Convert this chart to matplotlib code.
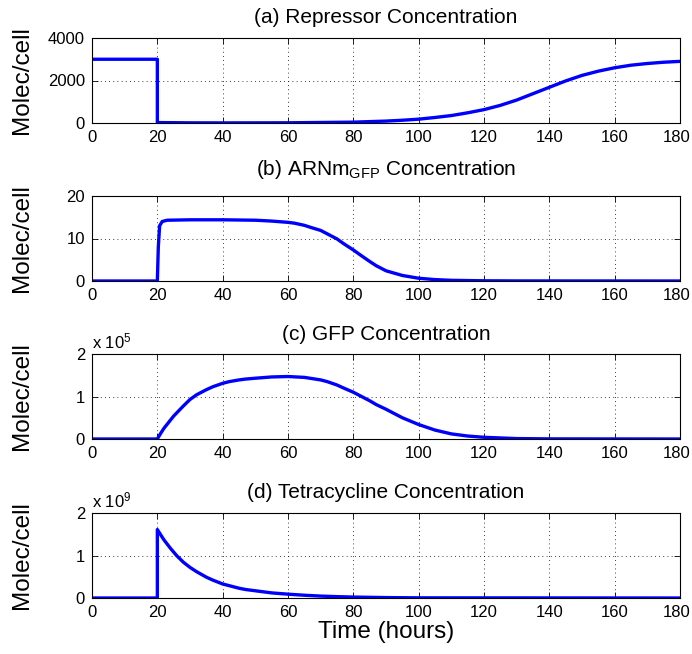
import matplotlib
matplotlib.use("Agg")
import matplotlib.pyplot as plt
import matplotlib.transforms as mtransforms

plt.rcParams['font.family'] = ['Liberation Sans', 'DejaVu Sans']
plt.rcParams['mathtext.fontset'] = 'custom'
plt.rcParams['mathtext.rm'] = 'Liberation Sans'
plt.rcParams['mathtext.it'] = 'Liberation Sans'

# ---- data ----
t_rep = [0, 20, 20, 30, 40, 60, 80, 90, 95, 100, 105, 110, 115, 120, 125, 130, 135, 140, 145, 150, 155, 160, 165, 170, 175, 180]
repressor = [3000, 3000, 20, 8, 5, 10, 40, 90, 130, 180, 260, 350, 480, 630, 830, 1080, 1380, 1680, 1980, 2240, 2440, 2600, 2720, 2800, 2860, 2900]

t_arn = [0, 20, 20.3, 20.7, 21.5, 23, 30, 40, 50, 55, 60, 62, 65, 67, 70, 72, 75, 77, 80, 82, 85, 87, 90, 95, 100, 105, 110, 120, 130, 180]
arnm_gfp = [0, 0, 8, 13, 14.0, 14.3, 14.4, 14.4, 14.3, 14.1, 13.8, 13.6, 13.1, 12.6, 11.9, 11.1, 9.9, 8.8, 7.3, 6.2, 4.6, 3.6, 2.4, 1.3, 0.65, 0.33, 0.16, 0.05, 0.02, 0]

t_gfp = [0, 20, 21, 22, 25, 28, 30, 32, 35, 37, 40, 42, 45, 47, 50, 55, 60, 65, 70, 72, 75, 77, 80, 82, 85, 87, 90, 92, 95, 100, 105, 110, 115, 120, 130, 140, 180]
gfp_x1e5 = [0, 0, 0.13, 0.25, 0.54, 0.78, 0.93, 1.04, 1.16, 1.23, 1.31, 1.35, 1.39, 1.41, 1.43, 1.46, 1.47, 1.45, 1.39, 1.35, 1.27, 1.20, 1.10, 1.02, 0.90, 0.81, 0.70, 0.62, 0.50, 0.34, 0.21, 0.12, 0.07, 0.04, 0.01, 0.003, 0]

t_tet = [0, 20, 20, 21, 22, 24, 25, 26, 28, 30, 32, 35, 37, 40, 42, 45, 47, 50, 55, 60, 65, 70, 75, 80, 90, 100, 180]
tet_x1e9 = [0, 0, 1.61, 1.49, 1.37, 1.17, 1.08, 0.99, 0.84, 0.72, 0.62, 0.49, 0.42, 0.33, 0.29, 0.23, 0.20, 0.17, 0.12, 0.09, 0.065, 0.045, 0.032, 0.022, 0.01, 0.004, 0]

titles = ["(a) Repressor Concentration",
          r"(b) ARNm$_{\mathregular{GFP}}$ Concentration",
          "(c) GFP Concentration",
          "(d) Tetracycline Concentration"]
ylims = [(0, 4000), (0, 20), (0, 2), (0, 2)]
yticks = [[0, 2000, 4000], [0, 10, 20], [0, 1, 2], [0, 1, 2]]
exponents = [None, None, 5, 9]
xticks = list(range(0, 181, 20))

series = [(t_rep, repressor), (t_arn, arnm_gfp), (t_gfp, gfp_x1e5), (t_tet, tet_x1e9)]

fig = plt.figure(figsize=(6.92, 6.54), dpi=100)
W, H = 692, 654
left, right = 92, 680
tops = [38, 196, 354, 513]
bottoms = [123, 281, 439, 598]
title_pads = [10.5, 15, 10, 10.5]

shift = mtransforms.ScaledTranslation(-3 / 100, 0, fig.dpi_scale_trans)

for i in range(4):
    ax = fig.add_axes([left / W, 1 - bottoms[i] / H, (right - left) / W, (bottoms[i] - tops[i]) / H])
    t, v = series[i]
    ax.plot(t, v, color=(0, 0, 1), lw=2.4, solid_joinstyle='round')
    ax.set_xlim(0, 180)
    ax.set_ylim(*ylims[i])
    ax.set_xticks(xticks)
    ax.set_yticks(yticks[i])
    ax.tick_params(direction='in', length=4, width=0.6, top=True, right=True, labelsize=12, pad=5)
    ax.grid(True, color='black', linestyle=(0, (1, 4)), linewidth=0.6)
    for s in ax.spines.values():
        s.set_linewidth(0.8)
    ax.set_title(titles[i], fontsize=15, pad=title_pads[i])
    ax.set_ylabel("Molec/cell", fontsize=17.5)
    ax.yaxis.set_label_coords(-0.100, 0.5)
    if exponents[i] is not None:
        ax.text(0.0, 1.0 + 6 / (bottoms[i] - tops[i]), r"x 10$^{%d}$" % exponents[i],
                transform=ax.transAxes, ha='left', va='baseline', fontsize=12)
    if i == 3:
        ax.set_xlabel("Time (hours)", fontsize=17.5, labelpad=1)
    last = ax.get_xticklabels()[-1]
    last.set_transform(last.get_transform() + shift)

fig.savefig("out.png", dpi=100)
